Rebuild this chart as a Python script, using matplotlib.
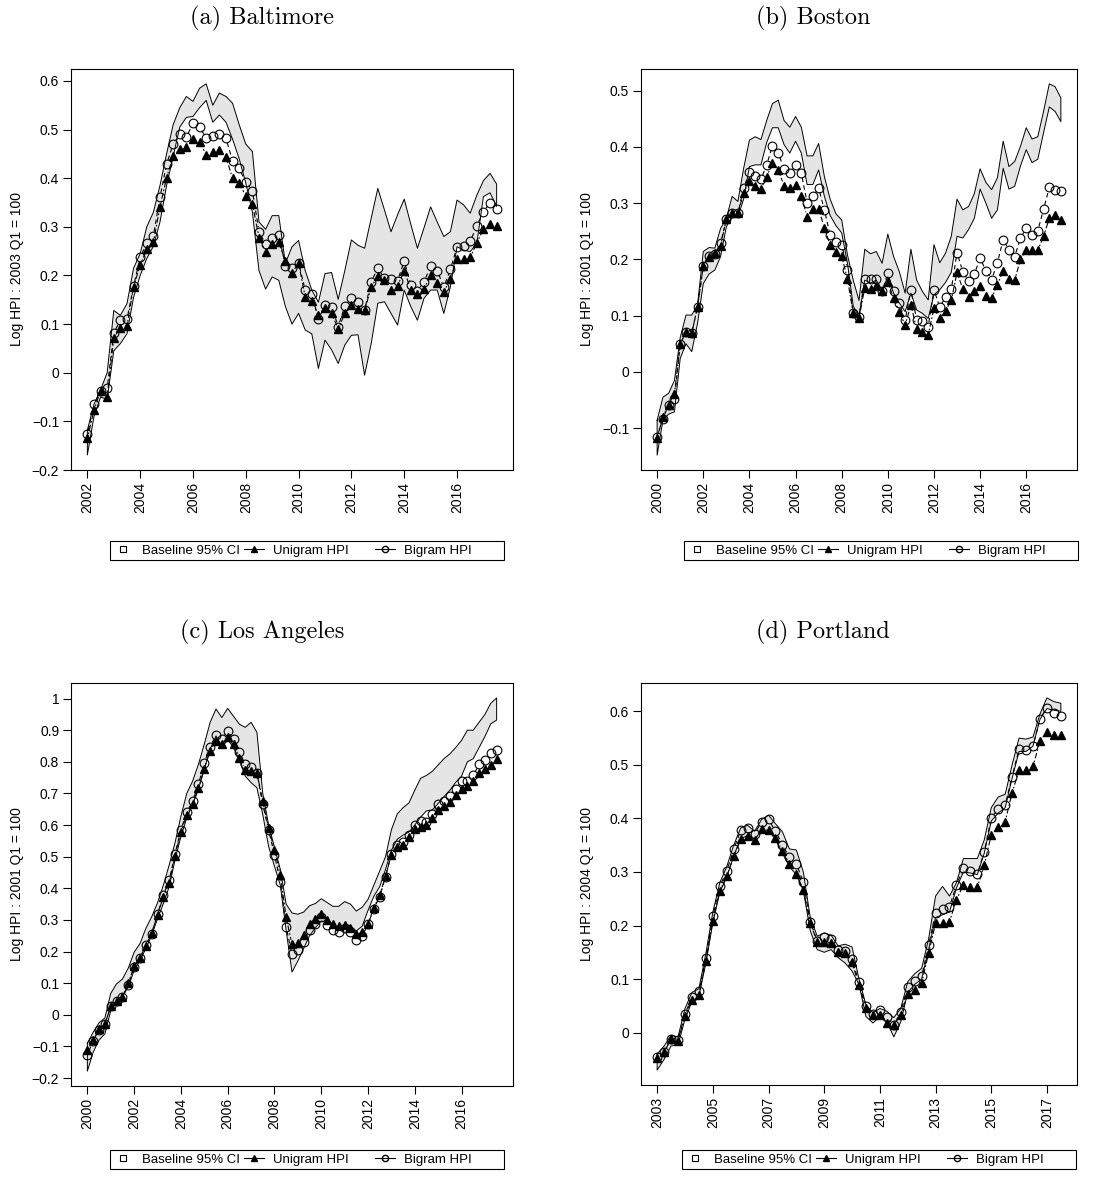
import numpy as np
import matplotlib.pyplot as plt
from matplotlib.lines import Line2D
from matplotlib.collections import LineCollection

plt.rcParams['font.family'] = ['Liberation Sans', 'DejaVu Sans']

# ======================
# |       DATA         |
# ======================
# quarterly series, first quarter of the start year onwards
bal_start = 2002
bal_lo = [-0.169, -0.090, -0.050, -0.055, 0.045, 0.060, 0.080, 0.155, 0.200, 0.235,
          0.260, 0.310, 0.385, 0.445, 0.505, 0.525, 0.527, 0.545, 0.560, 0.515,
          0.530, 0.515, 0.480, 0.440, 0.390, 0.330, 0.210, 0.172, 0.197, 0.190,
          0.136, 0.100, 0.122, 0.088, 0.080, 0.009, 0.067, 0.047, 0.019, 0.057,
          0.077, 0.078, -0.005, 0.060, 0.143, 0.146, 0.122, 0.098, 0.170, 0.136,
          0.108, 0.153, 0.170, 0.170, 0.122, 0.177, 0.259, 0.252, 0.249, 0.266,
          0.362, 0.370, 0.342]
bal_hi = [-0.118, -0.065, -0.035, 0.000, 0.128, 0.118, 0.142, 0.215, 0.245, 0.300,
          0.330, 0.385, 0.450, 0.510, 0.545, 0.568, 0.558, 0.585, 0.594, 0.550,
          0.575, 0.568, 0.554, 0.510, 0.470, 0.455, 0.310, 0.295, 0.323, 0.323,
          0.225, 0.259, 0.272, 0.210, 0.170, 0.145, 0.204, 0.206, 0.151, 0.210,
          0.273, 0.262, 0.256, 0.318, 0.379, 0.335, 0.290, 0.325, 0.357, 0.305,
          0.256, 0.298, 0.341, 0.310, 0.280, 0.290, 0.355, 0.345, 0.328, 0.365,
          0.395, 0.410, 0.388]
bal_uni = [-0.135, -0.077, -0.037, -0.049, 0.071, 0.093, 0.096, 0.177, 0.221, 0.254,
           0.268, 0.341, 0.401, 0.446, 0.461, 0.464, 0.480, 0.475, 0.448, 0.453,
           0.458, 0.443, 0.400, 0.391, 0.363, 0.347, 0.278, 0.248, 0.265, 0.268,
           0.230, 0.206, 0.225, 0.156, 0.148, 0.119, 0.134, 0.123, 0.089, 0.122,
           0.139, 0.132, 0.128, 0.176, 0.199, 0.191, 0.171, 0.179, 0.210, 0.171,
           0.161, 0.173, 0.200, 0.184, 0.167, 0.192, 0.234, 0.234, 0.237, 0.267,
           0.295, 0.306, 0.302]
bal_bi = [-0.127, -0.065, -0.037, -0.032, 0.082, 0.108, 0.110, 0.178, 0.237, 0.267,
          0.281, 0.361, 0.429, 0.470, 0.490, 0.484, 0.513, 0.506, 0.482, 0.486,
          0.491, 0.482, 0.435, 0.420, 0.392, 0.374, 0.290, 0.265, 0.278, 0.283,
          0.220, 0.215, 0.226, 0.170, 0.162, 0.110, 0.139, 0.136, 0.095, 0.137,
          0.153, 0.146, 0.129, 0.187, 0.215, 0.194, 0.192, 0.189, 0.230, 0.180,
          0.169, 0.187, 0.219, 0.210, 0.176, 0.213, 0.258, 0.261, 0.270, 0.302,
          0.331, 0.350, 0.336]

bos_start = 2000
bos_lo = [-0.148, -0.086, -0.075, -0.071, 0.024, 0.050, 0.036, 0.086, 0.157, 0.174,
          0.181, 0.205, 0.258, 0.275, 0.276, 0.307, 0.365, 0.368, 0.368, 0.408,
          0.434, 0.434, 0.404, 0.389, 0.410, 0.389, 0.333, 0.333, 0.359, 0.312,
          0.278, 0.260, 0.247, 0.193, 0.117, 0.098, 0.163, 0.158, 0.163, 0.144,
          0.169, 0.140, 0.122, 0.107, 0.140, 0.110, 0.104, 0.095, 0.137, 0.146,
          0.159, 0.177, 0.241, 0.238, 0.253, 0.273, 0.325, 0.300, 0.273, 0.288,
          0.362, 0.325, 0.330, 0.366, 0.395, 0.372, 0.378, 0.425, 0.471, 0.463,
          0.445]
bos_hi = [-0.086, -0.045, -0.038, -0.015, 0.061, 0.101, 0.101, 0.119, 0.214, 0.221,
          0.220, 0.255, 0.273, 0.312, 0.303, 0.362, 0.412, 0.418, 0.413, 0.447,
          0.477, 0.483, 0.447, 0.435, 0.454, 0.435, 0.384, 0.384, 0.406, 0.347,
          0.307, 0.281, 0.270, 0.208, 0.163, 0.127, 0.218, 0.210, 0.214, 0.193,
          0.245, 0.205, 0.178, 0.140, 0.218, 0.163, 0.143, 0.128, 0.226, 0.194,
          0.211, 0.241, 0.307, 0.288, 0.294, 0.317, 0.361, 0.337, 0.324, 0.345,
          0.410, 0.365, 0.374, 0.401, 0.434, 0.414, 0.418, 0.463, 0.512, 0.507,
          0.487]
bos_uni = [-0.118, -0.080, -0.058, -0.039, 0.050, 0.071, 0.069, 0.116, 0.188, 0.205,
           0.211, 0.224, 0.272, 0.282, 0.282, 0.318, 0.339, 0.330, 0.325, 0.347,
           0.371, 0.359, 0.331, 0.327, 0.333, 0.313, 0.276, 0.290, 0.290, 0.256,
           0.225, 0.213, 0.206, 0.165, 0.104, 0.095, 0.150, 0.147, 0.153, 0.144,
           0.160, 0.131, 0.107, 0.083, 0.119, 0.076, 0.071, 0.066, 0.113, 0.095,
           0.109, 0.127, 0.177, 0.147, 0.134, 0.143, 0.153, 0.135, 0.131, 0.155,
           0.180, 0.166, 0.163, 0.200, 0.217, 0.217, 0.216, 0.241, 0.273, 0.279,
           0.270]
bos_bi = [-0.115, -0.083, -0.059, -0.049, 0.050, 0.071, 0.069, 0.115, 0.189, 0.206,
          0.210, 0.229, 0.271, 0.283, 0.282, 0.327, 0.355, 0.349, 0.342, 0.368,
          0.402, 0.389, 0.361, 0.353, 0.368, 0.353, 0.301, 0.312, 0.327, 0.288,
          0.243, 0.230, 0.226, 0.182, 0.104, 0.098, 0.165, 0.166, 0.165, 0.143,
          0.175, 0.143, 0.122, 0.092, 0.146, 0.092, 0.091, 0.080, 0.146, 0.115,
          0.133, 0.147, 0.212, 0.178, 0.161, 0.174, 0.202, 0.180, 0.164, 0.194,
          0.235, 0.217, 0.205, 0.238, 0.255, 0.244, 0.251, 0.289, 0.328, 0.323,
          0.321]

la_start = 2000
la_lo = [-0.178, -0.118, -0.080, -0.060, 0.013, 0.040, 0.057, 0.089, 0.140, 0.172,
         0.209, 0.251, 0.304, 0.352, 0.405, 0.490, 0.564, 0.622, 0.665, 0.713,
         0.776, 0.840, 0.882, 0.850, 0.870, 0.845, 0.805, 0.755, 0.734, 0.718,
         0.633, 0.532, 0.470, 0.410, 0.267, 0.135, 0.170, 0.210, 0.250, 0.275,
         0.297, 0.292, 0.280, 0.270, 0.275, 0.282, 0.265, 0.280, 0.330, 0.375,
         0.405, 0.460, 0.520, 0.555, 0.568, 0.578, 0.600, 0.625, 0.645, 0.648,
         0.668, 0.690, 0.710, 0.735, 0.755, 0.800, 0.810, 0.845, 0.880, 0.920,
         0.932]
la_hi = [-0.090, -0.055, -0.025, -0.010, 0.068, 0.098, 0.113, 0.148, 0.198, 0.225,
         0.273, 0.310, 0.354, 0.410, 0.474, 0.545, 0.628, 0.700, 0.739, 0.792,
         0.856, 0.925, 0.967, 0.940, 0.969, 0.944, 0.919, 0.909, 0.925, 0.893,
         0.700, 0.600, 0.530, 0.460, 0.350, 0.322, 0.318, 0.325, 0.345, 0.352,
         0.367, 0.355, 0.343, 0.343, 0.358, 0.350, 0.328, 0.340, 0.365, 0.410,
         0.455, 0.500, 0.585, 0.635, 0.655, 0.670, 0.710, 0.748, 0.757, 0.770,
         0.790, 0.810, 0.825, 0.845, 0.868, 0.900, 0.900, 0.925, 0.950, 0.985,
         1.002]
la_uni = [-0.112, -0.080, -0.045, -0.030, 0.027, 0.045, 0.057, 0.100, 0.153, 0.180,
          0.218, 0.258, 0.315, 0.373, 0.416, 0.503, 0.577, 0.633, 0.665, 0.718,
          0.778, 0.835, 0.866, 0.856, 0.880, 0.856, 0.813, 0.774, 0.771, 0.766,
          0.675, 0.591, 0.522, 0.442, 0.308, 0.223, 0.227, 0.251, 0.286, 0.304,
          0.318, 0.301, 0.286, 0.280, 0.283, 0.273, 0.255, 0.262, 0.286, 0.339,
          0.379, 0.439, 0.506, 0.530, 0.538, 0.562, 0.587, 0.594, 0.601, 0.622,
          0.649, 0.660, 0.672, 0.694, 0.715, 0.723, 0.739, 0.764, 0.778, 0.789,
          0.808]
la_bi = [-0.127, -0.082, -0.047, -0.030, 0.027, 0.045, 0.057, 0.094, 0.151, 0.179,
         0.220, 0.257, 0.318, 0.379, 0.426, 0.509, 0.585, 0.641, 0.675, 0.729,
         0.797, 0.848, 0.884, 0.872, 0.898, 0.872, 0.831, 0.792, 0.785, 0.766,
         0.665, 0.585, 0.506, 0.421, 0.278, 0.191, 0.206, 0.230, 0.269, 0.288,
         0.308, 0.285, 0.269, 0.262, 0.276, 0.262, 0.238, 0.248, 0.286, 0.336,
         0.373, 0.437, 0.509, 0.538, 0.545, 0.569, 0.601, 0.612, 0.609, 0.636,
         0.665, 0.675, 0.691, 0.715, 0.739, 0.739, 0.757, 0.792, 0.806, 0.829,
         0.838]

por_start = 2003
por_lo = [-0.070, -0.050, -0.025, -0.023, 0.025, 0.058, 0.068, 0.130, 0.205, 0.262,
          0.290, 0.330, 0.362, 0.368, 0.360, 0.378, 0.378, 0.360, 0.335, 0.310,
          0.295, 0.265, 0.190, 0.155, 0.150, 0.155, 0.140, 0.130, 0.115, 0.090,
          0.030, 0.018, 0.030, 0.020, -0.008, 0.020, 0.075, 0.090, 0.100, 0.155,
          0.215, 0.220, 0.225, 0.270, 0.300, 0.298, 0.295, 0.335, 0.395, 0.410,
          0.420, 0.475, 0.525, 0.525, 0.535, 0.585, 0.605, 0.602, 0.600]
por_hi = [-0.040, -0.025, -0.005, -0.008, 0.045, 0.075, 0.082, 0.148, 0.225, 0.280,
          0.310, 0.350, 0.382, 0.387, 0.376, 0.398, 0.406, 0.390, 0.375, 0.343,
          0.341, 0.300, 0.215, 0.180, 0.186, 0.182, 0.162, 0.165, 0.160, 0.100,
          0.052, 0.037, 0.045, 0.040, 0.028, 0.045, 0.095, 0.110, 0.120, 0.175,
          0.255, 0.273, 0.255, 0.280, 0.325, 0.325, 0.325, 0.360, 0.420, 0.440,
          0.445, 0.500, 0.550, 0.548, 0.552, 0.595, 0.625, 0.618, 0.615]
por_uni = [-0.048, -0.037, -0.012, -0.015, 0.031, 0.061, 0.071, 0.133, 0.209, 0.265,
           0.292, 0.329, 0.361, 0.368, 0.359, 0.381, 0.379, 0.363, 0.340, 0.315,
           0.296, 0.267, 0.205, 0.169, 0.169, 0.168, 0.150, 0.149, 0.131, 0.089,
           0.046, 0.033, 0.033, 0.018, 0.014, 0.033, 0.073, 0.080, 0.093, 0.148,
           0.204, 0.205, 0.207, 0.248, 0.276, 0.271, 0.271, 0.313, 0.369, 0.384,
           0.394, 0.448, 0.490, 0.490, 0.497, 0.545, 0.561, 0.555, 0.555]
por_bi = [-0.046, -0.036, -0.012, -0.014, 0.035, 0.066, 0.077, 0.140, 0.218, 0.273,
          0.302, 0.342, 0.378, 0.382, 0.371, 0.394, 0.398, 0.376, 0.351, 0.327,
          0.315, 0.281, 0.207, 0.171, 0.179, 0.175, 0.154, 0.152, 0.137, 0.094,
          0.049, 0.035, 0.043, 0.030, 0.014, 0.039, 0.085, 0.096, 0.105, 0.163,
          0.224, 0.230, 0.235, 0.276, 0.307, 0.301, 0.296, 0.338, 0.401, 0.418,
          0.425, 0.478, 0.530, 0.528, 0.536, 0.586, 0.607, 0.597, 0.592]

titles = ["(a) Baltimore", "(b) Boston", "(c) Los Angeles", "(d) Portland"]
ylabels = ["Log HPI : 2003 Q1 = 100", "Log HPI : 2001 Q1 = 100",
           "Log HPI : 2001 Q1 = 100", "Log HPI : 2004 Q1 = 100"]
legend_labels = ["Baseline 95% CI", "Unigram HPI", "Bigram HPI"]


# ======================
# |    FUNCTIONS       |
# ======================
W, H = 1103, 1178


def r_lim(lo, hi):
    # R style axis: data range plus 4% each side
    span = hi - lo
    return lo - 0.04 * span, hi + 0.04 * span


def r_num(v):
    if abs(v) < 1e-9:
        return "0"
    if abs(v - round(v)) < 1e-9:
        return str(int(round(v)))
    s = f"{abs(v):.1f}"
    return ("\u2212" + s) if v < 0 else s


def gapped_line(ax, x, y, gap, **kw):
    # like R type="b": segments stop short of each point
    pts = ax.transData.transform(np.column_stack([x, y]))
    segs = []
    for p, q in zip(pts[:-1], pts[1:]):
        d = q - p
        n = np.hypot(*d)
        if n <= 2 * gap:
            continue
        u = d / n
        segs.append([p + u * gap, q - u * gap])
    inv = ax.transData.inverted()
    segs = [inv.transform(np.array(s)) for s in segs]
    ax.add_collection(LineCollection(segs, **kw))


def draw_panel(box, start, lo, hi, uni, bi, yticks, xticks, ylab):
    l, t, r, b = box
    ax = fig.add_axes([l / W, 1 - b / H, (r - l) / W, (b - t) / H])
    t_q = start + np.arange(len(uni)) / 4.0
    ax.set_xlim(*r_lim(t_q[0], t_q[-1]))
    ax.set_ylim(*r_lim(min(lo), max(hi)))

    ax.fill_between(t_q, lo, hi, facecolor="#e5e5e5", edgecolor="none", zorder=1)
    # polygon outline, closed at both ends like R's polygon()
    ax.plot(np.r_[t_q, t_q[::-1], t_q[0]], np.r_[hi, lo[::-1], hi[0]],
            color="black", lw=0.7, zorder=2)

    gapped_line(ax, t_q, uni, 4.5, colors="black", linewidths=0.8,
                linestyles=[(0, (1.5, 2, 5, 2))], zorder=3)
    ax.plot(t_q, uni, ls="none", marker="^", ms=6, mfc="black", mec="black", zorder=3)
    gapped_line(ax, t_q, bi, 4.5, colors="black", linewidths=0.8,
                linestyles=[(0, (4, 3))], zorder=4)
    ax.plot(t_q, bi, ls="none", marker="o", ms=6.3, mfc="none", mec="black",
            mew=0.8, zorder=4)

    ax.set_xticks(xticks)
    ax.set_xticklabels([str(x) for x in xticks], rotation=90, fontsize=10)
    ax.set_yticks(yticks)
    ax.set_yticklabels([r_num(v) for v in yticks], fontsize=10)
    ax.tick_params(direction="out", length=5.5, width=0.8, pad=3)
    for s in ax.spines.values():
        s.set_linewidth(0.8)
    ax.set_ylabel(ylab, fontsize=10)
    ax.yaxis.set_label_coords(-47 / (r - l), 0.5)
    return ax


# ======================
# |   Visualization    |
# ======================
fig = plt.figure(figsize=(W / 100, H / 100), dpi=100)

panels = [
    ((71, 69, 513, 470), bal_start, bal_lo, bal_hi, bal_uni, bal_bi,
     np.round(np.arange(-0.2, 0.61, 0.1), 1), list(range(2002, 2017, 2))),
    ((641, 69, 1077, 470), bos_start, bos_lo, bos_hi, bos_uni, bos_bi,
     np.round(np.arange(-0.1, 0.51, 0.1), 1), list(range(2000, 2017, 2))),
    ((71, 683, 513, 1086), la_start, la_lo, la_hi, la_uni, la_bi,
     np.round(np.arange(-0.2, 1.01, 0.1), 1), list(range(2000, 2017, 2))),
    ((641, 683, 1077, 1085), por_start, por_lo, por_hi, por_uni, por_bi,
     np.round(np.arange(0.0, 0.61, 0.1), 1), list(range(2003, 2018, 2))),
]

title_pos = [(262, 18), (813, 18), (262, 632), (823, 632)]
legend_pos = [(307, 541), (881, 541), (307, 1150), (879, 1150)]

handles = [
    Line2D([], [], ls="none", marker="s", ms=4.5, mfc="white", mec="black", mew=0.8),
    Line2D([], [], color="black", lw=0.8, marker="^", ms=5, mfc="black", mec="black"),
    Line2D([], [], color="black", lw=0.8, marker="o", ms=4.5, mfc="none", mec="black"),
]
# R gives every legend column the width of the longest label
padded = [legend_labels[0], legend_labels[1] + " " * 6, legend_labels[2] + " " * 8]

for k, (box, start, lo, hi, uni, bi, yt, xt) in enumerate(panels):
    draw_panel(box, start, lo, hi, uni, bi, yt, xt, ylabels[k])
    tx, ty = title_pos[k]
    fig.text(tx / W, 1 - ty / H, titles[k], family="cmr10", fontsize=17.5,
             ha="center", va="center")
    lx, ly = legend_pos[k]
    leg = fig.legend(handles, padded, loc="upper center",
                     bbox_to_anchor=(lx / W, 1 - ly / H), ncol=3, fontsize=9.5,
                     frameon=True, fancybox=False, edgecolor="black",
                     framealpha=1, borderpad=0.25, handlelength=1.5,
                     handletextpad=0.7, columnspacing=0.3, borderaxespad=0)
    leg.get_frame().set_linewidth(0.8)

fig.savefig("out.png", dpi=100)
